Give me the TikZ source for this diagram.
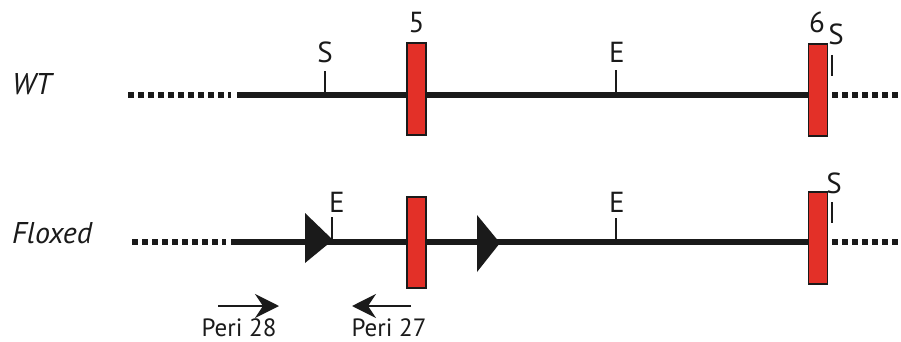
\documentclass[tikz,border=0pt]{standalone}
\usepackage{fontspec}
\setmainfont{PT Sans}
\usetikzlibrary{arrows.meta}
\definecolor{exonred}{RGB}{227,48,40}
\definecolor{ink}{RGB}{26,26,26}
\begin{document}
\begin{tikzpicture}[x=1pt,y=-1pt,
  chrom/.style={line width=6.5pt,draw=ink},
  flank/.style={line width=6.5pt,draw=ink,dash pattern=on 6pt off 4pt},
  site/.style={line width=1.6pt,draw=ink},
  exon/.style={draw=ink,line width=1.5pt,fill=exonred,minimum width=19pt,minimum height=92pt,inner sep=0pt},
  lbl/.style={font=\fontsize{29}{29}\selectfont,anchor=base,inner sep=0pt,text=ink},
  rowlbl/.style={font=\fontsize{30}{30}\selectfont\itshape,anchor=base west,inner sep=0pt,text=ink},
  primer/.style={line width=2.2pt,draw=ink,-{Stealth[length=24pt,width=24pt,inset=8pt]}},
  plbl/.style={font=\fontsize{25}{25}\selectfont,anchor=base,inner sep=0pt,text=ink},
  loxp/.style={fill=ink}]
\useasboundingbox (0,0) rectangle (901,342);

% ---------- WT row ----------
\node[rowlbl] (wt) at (12,95) {WT};
\coordinate (wtDL) at (128,95);
\coordinate (wtDLe) at (231,95);
\coordinate (wtL) at (237,95);
\coordinate (wtDR) at (832,95);
\coordinate (wtDRe) at (901,95);
\draw[flank] (wtDL) -- (wtDLe);
\draw[flank] (wtDR) -- (wtDRe);
\draw[chrom] (wtL) -- (812,95);
% sites
\coordinate (wtS1) at (325,95);
\draw[site] (wtS1) -- ++(0,-24);
\node[lbl] (wtS1l) at (325,63) {S};
\coordinate (wtE1) at (616,95);
\draw[site] (wtE1) -- ++(0,-25);
\node[lbl] (wtE1l) at (617,63) {E};
\coordinate (wtS2) at (832,55);
\draw[site] (wtS2) -- (832,76);
\node[lbl] (wtS2l) at (836,45) {S};
% exons
\node[exon] (wt5) at (416.5,89) {};
\node[exon] (wt6) at (818,90) {};
\node[lbl] (wt5l) at (416.5,33) {5};
\node[lbl] (wt6l) at (817,33) {6};

% ---------- Floxed row ----------
\node[rowlbl] (fl) at (12,243) {Floxed};
\coordinate (flDL) at (132,242);
\coordinate (flDLe) at (226,242);
\coordinate (flL) at (231,242);
\coordinate (flDR) at (832,242);
\coordinate (flDRe) at (901,242);
\draw[flank] (flDL) -- (flDLe);
\draw[flank] (flDR) -- (flDRe);
\draw[chrom] (flL) -- (812,242);
% loxP sites
\fill[loxp] (305,213) -- (333,240) -- (305,263) -- cycle;
\fill[loxp] (477,215) -- (500,243) -- (477,272) -- cycle;
% sites
\coordinate (flE1) at (332,242);
\draw[site] (flE1) -- (332,217);
\node[lbl] (flE1l) at (337,212) {E};
\coordinate (flE2) at (616,242);
\draw[site] (flE2) -- (616,218);
\node[lbl] (flE2l) at (617,212) {E};
\coordinate (flS2) at (832,202);
\draw[site] (flS2) -- (832,223);
\node[lbl] (flS2l) at (834,193) {S};
% exons
\node[exon,minimum height=91pt] (fl5) at (416.5,242.5) {};
\node[exon] (fl6) at (818,238) {};

% ---------- primers ----------
\coordinate (p28a) at (218,306);
\coordinate (p28b) at (279,306);
\coordinate (p27a) at (411,306);
\coordinate (p27b) at (352,306);
\draw[primer] (p28a) -- (p28b);
\draw[primer] (p27a) -- (p27b);
\node[plbl] (p28) at (239,336) {Peri 28};
\node[plbl] (p27) at (389,336) {Peri 27};
\end{tikzpicture}
\end{document}
